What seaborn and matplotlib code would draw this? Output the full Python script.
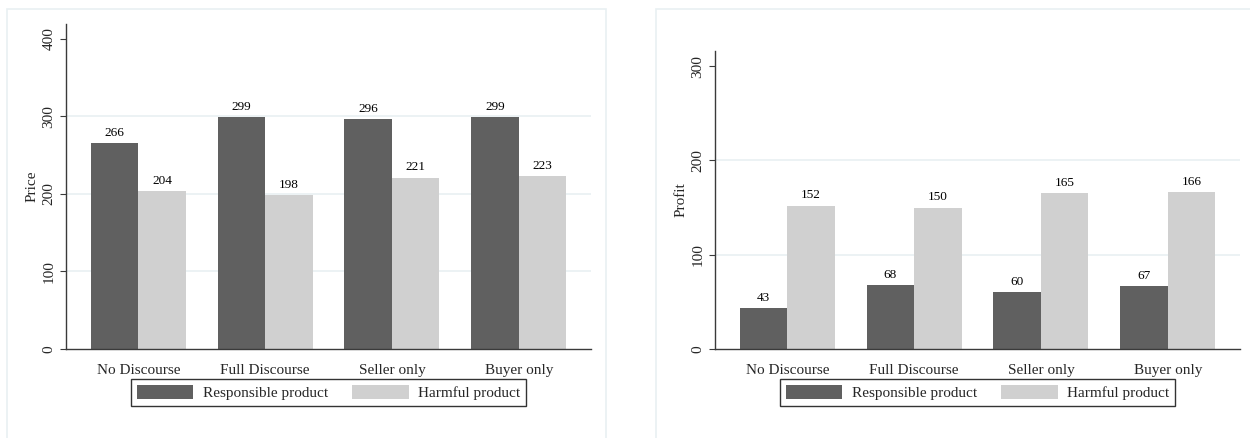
import pandas as pd
import matplotlib.pyplot as plt
import matplotlib.patches as mpatches
import seaborn as sns

scenarios = ['No Discourse', 'Full Discourse', 'Seller only', 'Buyer only']
products = ['Responsible product', 'Harmful product']
price_responsible = [266, 299, 296, 299]
price_harmful = [204, 198, 221, 223]
profit_responsible = [43, 68, 60, 67]
profit_harmful = [152, 150, 165, 166]
price_ticks = [0, 100, 200, 300, 400]
profit_ticks = [0, 100, 200, 300]

colors = {'Responsible product': '#606060', 'Harmful product': '#d0d0d0'}
grid_color = '#e9f0f2'

sns.set_theme(style='white')
plt.rcParams['font.family'] = ['Liberation Serif', 'DejaVu Serif']


def long_df(resp, harm):
    return pd.DataFrame({
        'scenario': scenarios * 2,
        'product': [products[0]] * len(scenarios) + [products[1]] * len(scenarios),
        'value': resp + harm,
    })


fig = plt.figure(figsize=(12.5, 4.38), dpi=100)

# panel frames (Stata-style graph region outline)
for x0, w in [(7 / 1250, 599 / 1250), (656 / 1250, 0.6)]:
    fig.patches.append(mpatches.Rectangle((x0, -0.05), w, 1.05 - 9 / 438, transform=fig.transFigure,
                                          fill=False, edgecolor=grid_color, linewidth=1.2, zorder=0))

panels = [
    (long_df(price_responsible, price_harmful), 'Price', price_ticks, 419, [66 / 1250, 0.2032, 0.42, 0.742]),
    (long_df(profit_responsible, profit_harmful), 'Profit', profit_ticks, 316, [715 / 1250, 0.2032, 0.42, 0.6804]),
]

for df, ylabel, ticks, ytop, pos in panels:
    ax = fig.add_axes(pos)
    sns.barplot(data=df, x='scenario', y='value', hue='product', hue_order=products,
                palette=colors, width=0.75, saturation=1, linewidth=0, legend=False, ax=ax)
    for cont in ax.containers:
        ax.bar_label(cont, fmt='%d', padding=3, fontsize=9.5, color='black')

    ax.set_xlim(-0.57, 3.57)
    ax.set_ylim(0, ytop)
    ax.set_yticks(ticks)
    ax.set_axisbelow(True)
    ax.yaxis.grid(True, color=grid_color, linewidth=1.2)
    gl = ax.get_ygridlines()
    gl[0].set_visible(False)
    gl[-1].set_visible(False)

    for side in ['top', 'right']:
        ax.spines[side].set_visible(False)
    for side in ['left', 'bottom']:
        ax.spines[side].set_color('#3a3a3a')
        ax.spines[side].set_linewidth(1.0)

    ax.tick_params(axis='y', left=True, length=4.5, width=0.8, color='#3a3a3a',
                   labelsize=11, pad=3, labelrotation=90)
    for lab in ax.get_yticklabels():
        lab.set_va('center')
    ax.tick_params(axis='x', bottom=False, labelsize=11, pad=5)
    ax.set_xlabel('')
    ax.set_ylabel(ylabel, fontsize=11, labelpad=3)

    handles = [mpatches.Patch(facecolor=colors[p], edgecolor='none') for p in products]
    leg = ax.legend(handles, products, loc='upper center', bbox_to_anchor=(0.5, -0.092 * 325 / (pos[3] * 438)),
                    ncol=2, fontsize=11, frameon=True, fancybox=False, shadow=False,
                    handlelength=3.7, handleheight=1.05, handletextpad=0.6, columnspacing=1.6,
                    borderpad=0.4, borderaxespad=0)
    leg.get_frame().set_edgecolor('black')
    leg.get_frame().set_linewidth(1.0)

fig.savefig('out.png', dpi=100)
